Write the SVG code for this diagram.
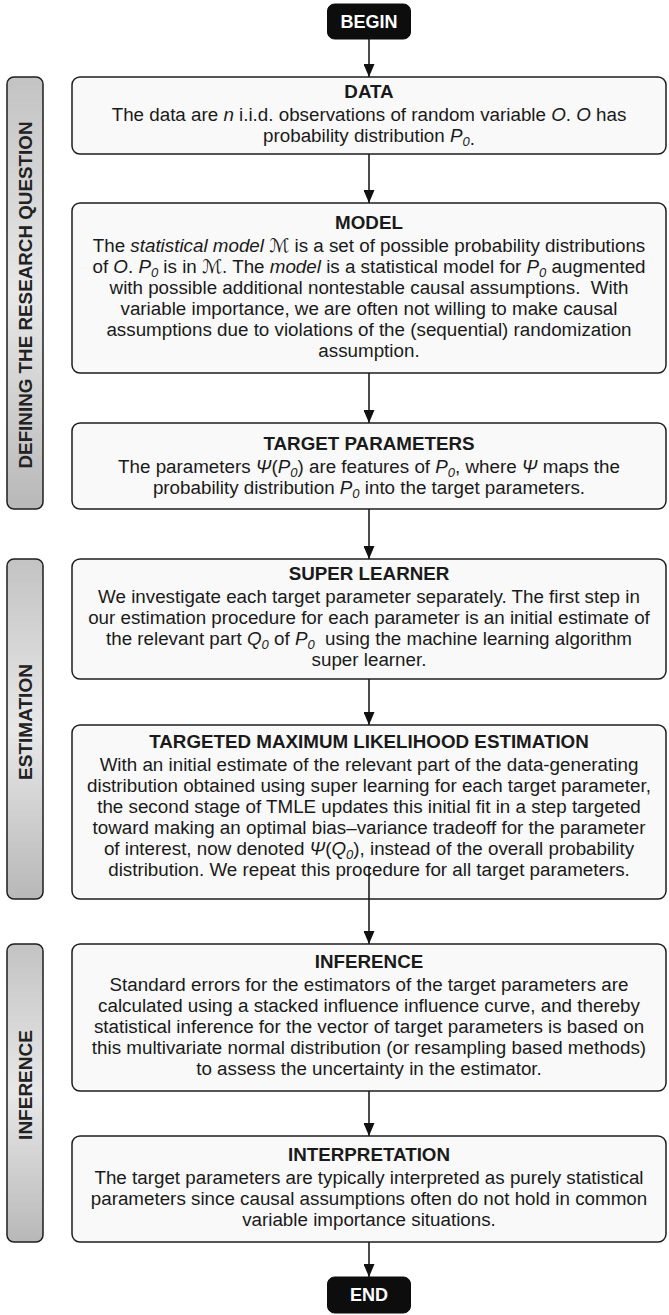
<svg xmlns="http://www.w3.org/2000/svg" width="669" height="1315" viewBox="0 0 669 1315">
<defs>
<linearGradient id="barGrad" x1="0" y1="0" x2="0" y2="1">
<stop offset="0" stop-color="#c3c3c3"/>
<stop offset="0.5" stop-color="#e8e8e8"/>
<stop offset="1" stop-color="#b8b8b8"/>
</linearGradient>
<marker id="ah" viewBox="0 0 13 11" refX="13" refY="5.5" markerWidth="13" markerHeight="11" markerUnits="userSpaceOnUse" orient="auto">
<path d="M0,0 L13,5.5 L0,11 z" fill="#111"/>
</marker>
<style>
.box{fill:#f9f9f9;stroke:#1e1e1e;stroke-width:1.5}
.term{fill:#0d0d0d;stroke:#0d0d0d;stroke-width:1}
.bar{fill:url(#barGrad);stroke:#1e1e1e;stroke-width:1.5}
text{font-family:"Liberation Sans",Arial,Helvetica,sans-serif;fill:#1a1a1a}
.t{font-size:18.8px;text-anchor:middle}
.h{font-weight:bold}
.i{font-style:italic}
.s{font-style:italic;font-size:13px}
.m{font-family:"DejaVu Serif","DejaVu Sans",serif;font-style:normal}
.side{font-size:19px;font-weight:bold;text-anchor:middle;fill:#222}
.tt{font-size:18px;font-weight:bold;text-anchor:middle;fill:#fff}
.conn{stroke:#111;stroke-width:1.5;fill:none;marker-end:url(#ah)}
</style>
</defs>

<g id="phase-defining">
<rect class="bar" x="7" y="77" width="36" height="432" rx="7"/>
<text class="side" transform="translate(31.5,295) rotate(-90)" textLength="347" lengthAdjust="spacingAndGlyphs">DEFINING THE RESEARCH QUESTION</text>
</g>
<g id="phase-estimation">
<rect class="bar" x="7" y="559" width="36" height="340" rx="7"/>
<text class="side" transform="translate(31.5,722) rotate(-90)">ESTIMATION</text>
</g>
<g id="phase-inference">
<rect class="bar" x="7" y="944" width="36" height="298" rx="7"/>
<text class="side" transform="translate(31.5,1085) rotate(-90)">INFERENCE</text>
</g>

<g id="connectors">
<line class="conn" x1="369" y1="39" x2="369" y2="77"/>
<line class="conn" x1="369" y1="154" x2="369" y2="203"/>
<line class="conn" x1="369" y1="373" x2="369" y2="423"/>
<line class="conn" x1="369" y1="509" x2="369" y2="559"/>
<line class="conn" x1="369" y1="679" x2="369" y2="725"/>
<line class="conn" x1="369" y1="866" x2="369" y2="944"/>
<line class="conn" x1="369" y1="1091" x2="369" y2="1136"/>
<line class="conn" x1="369" y1="1242" x2="369" y2="1277"/>
</g>

<g id="begin">
<rect class="term" x="327.5" y="4" width="83" height="35" rx="7"/>
<text class="tt" x="369" y="28">BEGIN</text>
</g>

<g id="data">
<rect class="box" x="72" y="77" width="594" height="77" rx="8"/>
<text class="t h" x="369" y="98">DATA</text>
<text class="t" x="369" y="121">The data are <tspan class="i">n</tspan> i.i.d. observations of random variable <tspan class="i">O</tspan>. <tspan class="i">O</tspan> has</text>
<text class="t" x="369" y="142">probability distribution <tspan class="i">P</tspan><tspan class="s" dy="4">0</tspan><tspan dy="-1">.</tspan></text>
</g>

<g id="model">
<rect class="box" x="72" y="203" width="594" height="170" rx="8"/>
<text class="t h" x="369" y="229">MODEL</text>
<text class="t" x="369" y="252">The <tspan class="i">statistical model</tspan> <tspan class="m">ℳ</tspan> is a set of possible probability distributions</text>
<text class="t" x="369" y="273">of <tspan class="i">O</tspan>. <tspan class="i">P</tspan><tspan class="s" dy="4">0</tspan><tspan dy="-4"> is in </tspan><tspan class="m">ℳ</tspan>. The <tspan class="i">model</tspan> is a statistical model for <tspan class="i">P</tspan><tspan class="s" dy="4">0</tspan><tspan dy="-4"> augmented</tspan></text>
<text class="t" x="369" y="294">with possible additional nontestable causal assumptions. &#160;With</text>
<text class="t" x="369" y="315">variable importance, we are often not willing to make causal</text>
<text class="t" x="369" y="336">assumptions due to violations of the (sequential) randomization</text>
<text class="t" x="369" y="357">assumption.</text>
</g>

<g id="target-parameters">
<rect class="box" x="72" y="423" width="594" height="86" rx="8"/>
<text class="t h" x="369" y="450">TARGET PARAMETERS</text>
<text class="t" x="369" y="473">The parameters <tspan class="i">Ψ</tspan>(<tspan class="i">P</tspan><tspan class="s" dy="4">0</tspan><tspan dy="-4">) are features of </tspan><tspan class="i">P</tspan><tspan class="s" dy="4">0</tspan><tspan dy="-4">, where </tspan><tspan class="i">Ψ</tspan> maps the</text>
<text class="t" x="369" y="494">probability distribution <tspan class="i">P</tspan><tspan class="s" dy="4">0</tspan><tspan dy="-4"> into the target parameters.</tspan></text>
</g>

<g id="super-learner">
<rect class="box" x="72" y="559" width="594" height="120" rx="8"/>
<text class="t h" x="369" y="580">SUPER LEARNER</text>
<text class="t" x="369" y="603">We investigate each target parameter separately. The first step in</text>
<text class="t" x="369" y="624">our estimation procedure for each parameter is an initial estimate of</text>
<text class="t" x="369" y="645">the relevant part <tspan class="i">Q</tspan><tspan class="s" dy="4">0</tspan><tspan dy="-4"> of </tspan><tspan class="i">P</tspan><tspan class="s" dy="4">0</tspan><tspan dy="-4"> &#160;using the machine learning algorithm</tspan></text>
<text class="t" x="369" y="666">super learner.</text>
</g>

<g id="tmle">
<rect class="box" x="72" y="725" width="594" height="174" rx="8"/>
<text class="t h" x="369" y="748">TARGETED MAXIMUM LIKELIHOOD ESTIMATION</text>
<text class="t" x="369" y="771">With an initial estimate of the relevant part of the data-generating</text>
<text class="t" x="369" y="792">distribution obtained using super learning for each target parameter,</text>
<text class="t" x="369" y="813">the second stage of TMLE updates this initial fit in a step targeted</text>
<text class="t" x="369" y="834">toward making an optimal bias–variance tradeoff for the parameter</text>
<text class="t" x="369" y="855">of interest, now denoted <tspan class="i">Ψ</tspan>(<tspan class="i">Q</tspan><tspan class="s" dy="4">0</tspan><tspan dy="-4">), instead of the overall probability</tspan></text>
<text class="t" x="369" y="876">distribution. We repeat this procedure for all target parameters.</text>
</g>

<g id="inference">
<rect class="box" x="72" y="944" width="594" height="147" rx="8"/>
<text class="t h" x="369" y="968">INFERENCE</text>
<text class="t" x="369" y="991">Standard errors for the estimators of the target parameters are</text>
<text class="t" x="369" y="1012">calculated using a stacked influence influence curve, and thereby</text>
<text class="t" x="369" y="1033">statistical inference for the vector of target parameters is based on</text>
<text class="t" x="369" y="1054">this multivariate normal distribution (or resampling based methods)</text>
<text class="t" x="369" y="1075">to assess the uncertainty in the estimator.</text>
</g>

<g id="interpretation">
<rect class="box" x="72" y="1136" width="594" height="106" rx="8"/>
<text class="t h" x="369" y="1161">INTERPRETATION</text>
<text class="t" x="369" y="1184">The target parameters are typically interpreted as purely statistical</text>
<text class="t" x="369" y="1205">parameters since causal assumptions often do not hold in common</text>
<text class="t" x="369" y="1226">variable importance situations.</text>
</g>

<g id="end">
<rect class="term" x="327.5" y="1277" width="83" height="36" rx="7"/>
<text class="tt" x="369" y="1301">END</text>
</g>

<g id="connector-overlay">
<line x1="369" y1="866" x2="369" y2="899" stroke="#111" stroke-width="1.5"/>
</g>
</svg>
